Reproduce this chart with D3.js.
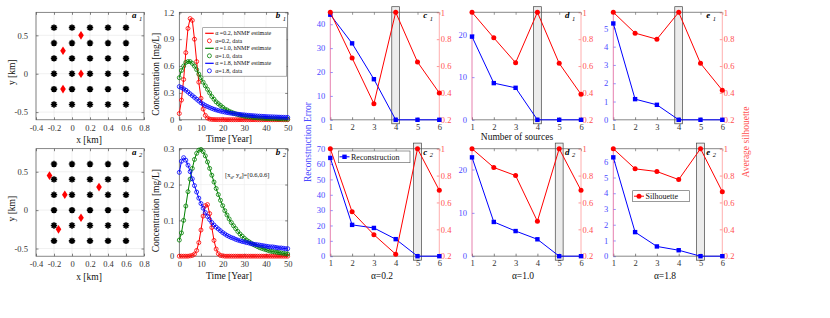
<!DOCTYPE html>
<html>
<head>
<meta charset="utf-8">
<script src="https://cdn.jsdelivr.net/npm/d3@7"></script>
<style>
  body { margin: 0; background: #fff; }
</style>
</head>
<body>
<div id="fig"></div>
<script>
// ---------- data ----------
// panels a: well grid and source locations [km]
const wellX = [-0.2, 0, 0.2, 0.4, 0.6];
const wellY = [-0.4, -0.2, 0, 0.2, 0.4, 0.6];
const srcA1 = [[0.1, 0.5], [-0.1, 0.3], [0.1, 0], [-0.1, -0.2]];
const srcA2 = [[-0.25, 0.45], [-0.08, 0.2], [0.3, 0.3], [0.1, -0.1], [-0.15, -0.25]];
const mapXTicks = [-0.4, -0.2, 0, 0.2, 0.4, 0.6, 0.8];
const mapYTicks = [-0.5, 0, 0.5];

// panels b: concentration [mg/L] vs time [year]
const years = [0,1,2,3,4,5,6,7,8,9,10,11,12,13,14,15,16,17,18,19,20,21,22,23,24,25,
  26,27,28,29,30,31,32,33,34,35,36,37,38,39,40,41,42,43,44,45,46,47,48,49,50];
const b1Alpha02 = [0.07,0.22,0.45,0.75,1.02,1.13,1.11,0.9,0.65,0.42,
  0.24,0.12,0.05,0.02,0.008,0.004,0.003,0.002,0.002,0.002,
  0.002,0.001,0.001,0.001,0.001,0.001,0.001,0.001,0.001,0.001,
  0.001,0.001,0.001,0.001,0.001,0.001,0.001,0.001,0.001,0.001,
  0.001,0.001,0.001,0.001,0.001,0.001,0.001,0.001,0.001,0.001,0.001];
const b1Alpha10 = [0.47,0.55,0.6,0.64,0.65,0.65,0.63,0.6,0.56,0.51,
  0.47,0.42,0.38,0.34,0.3,0.26,0.23,0.2,0.18,0.16,
  0.14,0.12,0.11,0.095,0.085,0.075,0.066,0.058,0.052,0.046,
  0.041,0.037,0.033,0.03,0.027,0.024,0.022,0.02,0.018,0.016,
  0.015,0.014,0.013,0.012,0.011,0.01,0.009,0.009,0.008,0.008,0.007];
const b1Alpha18 = [0.37,0.36,0.345,0.33,0.31,0.29,0.27,0.25,0.23,0.21,
  0.19,0.175,0.16,0.148,0.137,0.127,0.118,0.11,0.103,0.097,
  0.091,0.086,0.081,0.077,0.073,0.069,0.066,0.063,0.06,0.057,
  0.055,0.052,0.05,0.048,0.046,0.044,0.042,0.041,0.039,0.038,
  0.036,0.035,0.034,0.033,0.032,0.031,0.03,0.029,0.028,0.027,0.026];
const b2Alpha02 = [0,0,0,0,0,0.001,0.002,0.006,0.016,0.038,
  0.073,0.112,0.141,0.144,0.119,0.08,0.044,0.02,0.007,0.002,
  0.001,0,0,0,0,0,0,0,0,0,
  0,0,0,0,0,0,0,0,0,0,
  0,0,0,0,0,0,0,0,0,0,0];
const b2Alpha10 = [0.045,0.065,0.1,0.14,0.18,0.215,0.245,0.27,0.287,0.296,
  0.298,0.292,0.28,0.263,0.245,0.226,0.207,0.189,0.172,0.156,
  0.141,0.127,0.115,0.104,0.094,0.085,0.077,0.069,0.062,0.056,
  0.05,0.045,0.041,0.037,0.033,0.03,0.027,0.024,0.022,0.02,
  0.018,0.016,0.014,0.013,0.012,0.011,0.01,0.009,0.008,0.007,0.006];
const b2Alpha18 = [0.234,0.265,0.275,0.268,0.254,0.236,0.216,0.197,0.179,0.162,
  0.147,0.134,0.122,0.111,0.102,0.094,0.087,0.081,0.076,0.071,
  0.066,0.062,0.058,0.055,0.052,0.05,0.047,0.045,0.043,0.041,
  0.04,0.038,0.037,0.035,0.034,0.033,0.032,0.031,0.03,0.029,
  0.028,0.027,0.026,0.026,0.025,0.024,0.023,0.023,0.022,0.021,0.021];
const timeTicks = [0, 10, 20, 30, 40, 50];
const b1YTicks = [0, 0.3, 0.6, 0.9, 1.2];
const b2YTicks = [0, 0.1, 0.2, 0.3];
const alphaNames = ["0.2", "1.0", "1.8"];

// panels c, d, e: reconstruction error and average silhouette vs number of sources
const nSources = [1, 2, 3, 4, 5, 6];
const errC1 = [44, 32, 17, 0, 0, 0];
const silC1 = [1, 0.66, 0.32, 1, 0.63, 0.4];
const errC2 = [64, 20.4, 18.4, 11.1, 0, 0];
const silC2 = [1, 0.53, 0.36, 0.215, 1, 0.69];
const errD1 = [19.5, 8.6, 7.5, 0, 0, 0];
const silD1 = [1, 0.81, 0.625, 1, 0.62, 0.39];
const errD2 = [22.8, 7.9, 5.8, 3.9, 0, 0];
const silD2 = [1, 0.86, 0.8, 0.46, 1, 0.69];
const errE1 = [5.27, 1.13, 0.82, 0, 0, 0];
const silE1 = [1, 0.845, 0.8, 1, 0.62, 0.42];
const errE2 = [6.28, 1.53, 0.62, 0.38, 0, 0];
const silE2 = [1, 0.85, 0.83, 0.77, 1, 0.68];
const silTicks = [0.2, 0.4, 0.6, 0.8, 1];

// ---------- layout ----------
const serif = "'Liberation Serif', 'Times New Roman', serif";
const rowTop = [12.3, 148.7], plotH = 107.5;
const RED = "#ff0000", GREEN = "#008000", BLUE = "#0000ff";
const fmt = d => String(d);

const svg = d3.select("#fig").append("svg")
    .attr("width", 830).attr("height", 318)
    .attr("font-family", serif);

function drawAxis(gen, tr, color, fs) {
  const g = svg.append("g").attr("transform", tr).call(gen);
  g.attr("font-family", serif).attr("font-size", fs);
  g.select(".domain").remove();
  g.selectAll(".tick line").attr("stroke", color).attr("stroke-width", 0.6);
  g.selectAll(".tick text").attr("fill", color);
  return g;
}

function tag(x, y, letter, sub) {
  const t = svg.append("text").attr("x", x).attr("y", y).attr("font-size", 9);
  t.append("tspan").attr("font-weight", "bold").attr("font-style", "italic").text(letter);
  t.append("tspan").attr("font-style", "italic").attr("font-size", 6.5)
    .attr("dx", 2.5).attr("dy", 2.5).text(sub);
}

function vLabel(x, y, txt, color) {
  svg.append("text").attr("transform", `translate(${x},${y}) rotate(-90)`)
    .attr("text-anchor", "middle").attr("dy", "0.35em")
    .attr("font-size", 9.5).attr("fill", color).text(txt);
}

function hLabel(x, y, txt) {
  svg.append("text").attr("x", x).attr("y", y).attr("text-anchor", "middle")
    .attr("dy", "0.35em").attr("font-size", 9.5).attr("fill", "#111").text(txt);
}

// ---------- panels a ----------
const aLeft = 36, aW = 108;
const asterisk = "M-3.2,0H3.2M0,-3.2V3.2M-2.3,-2.3L2.3,2.3M-2.3,2.3L2.3,-2.3";
const diamond = "M0,-4.3L2.8,0L0,4.3L-2.8,0Z";

function mapPanel(top, sources, sub) {
  const x = d3.scaleLinear().domain([-0.4, 0.8]).range([aLeft, aLeft + aW]);
  const y = d3.scaleLinear().domain([-0.6, 0.8]).range([top + plotH, top]);
  const grid = svg.append("g").attr("stroke", "#e8e8e8").attr("stroke-width", 0.6);
  grid.selectAll(".gx").data(mapXTicks).join("line")
    .attr("x1", d => x(d)).attr("x2", d => x(d)).attr("y1", top).attr("y2", top + plotH);
  grid.selectAll(".gy").data(mapYTicks).join("line")
    .attr("y1", d => y(d)).attr("y2", d => y(d)).attr("x1", aLeft).attr("x2", aLeft + aW);

  drawAxis(d3.axisBottom(x).tickValues(mapXTicks).tickFormat(fmt).tickSize(-2.5).tickPadding(5),
    `translate(0,${top + plotH})`, "#333", 8.5);
  drawAxis(d3.axisTop(x).tickValues(mapXTicks).tickFormat("").tickSize(-2.5),
    `translate(0,${top})`, "#333", 8.5);
  drawAxis(d3.axisLeft(y).tickValues(mapYTicks).tickFormat(fmt).tickSize(-2.5).tickPadding(8),
    `translate(${aLeft},0)`, "#333", 8.5);
  drawAxis(d3.axisRight(y).tickValues(mapYTicks).tickFormat("").tickSize(-2.5),
    `translate(${aLeft + aW},0)`, "#333", 8.5);
  svg.append("rect").attr("x", aLeft).attr("y", top).attr("width", aW).attr("height", plotH)
    .attr("fill", "none").attr("stroke", "#555").attr("stroke-width", 0.7);

  const wells = [];
  wellX.forEach(wx => wellY.forEach(wy => wells.push([wx, wy])));
  svg.append("g").selectAll("path").data(wells).join("path")
    .attr("transform", d => `translate(${x(d[0])},${y(d[1])})`)
    .attr("d", asterisk).attr("stroke", "#000").attr("stroke-width", 1.6);
  svg.append("g").selectAll("path").data(sources).join("path")
    .attr("transform", d => `translate(${x(d[0])},${y(d[1])})`)
    .attr("d", diamond).attr("fill", RED);

  tag(aLeft + aW - 12, top + 6, "a", sub);
  hLabel(89, top + plotH + 20, "x [km]");
  vLabel(12, top + 60, "y [km]", "#111");
}

mapPanel(rowTop[0], srcA1, "1");
mapPanel(rowTop[1], srcA2, "2");

// ---------- panels b ----------
const bLeft = 179.3, bW = 108.4;

function curvePanel(top, series, yMax, yTicks, sub) {
  const x = d3.scaleLinear().domain([0, 50]).range([bLeft, bLeft + bW]);
  const y = d3.scaleLinear().domain([0, yMax]).range([top + plotH, top]);
  const grid = svg.append("g").attr("stroke", "#ececec").attr("stroke-width", 0.6);
  grid.selectAll(".gx").data(timeTicks).join("line")
    .attr("x1", d => x(d)).attr("x2", d => x(d)).attr("y1", top).attr("y2", top + plotH);
  grid.selectAll(".gy").data(yTicks).join("line")
    .attr("y1", d => y(d)).attr("y2", d => y(d)).attr("x1", bLeft).attr("x2", bLeft + bW);

  drawAxis(d3.axisBottom(x).tickValues(timeTicks).tickFormat(fmt).tickSize(-2.5).tickPadding(5),
    `translate(0,${top + plotH})`, "#333", 8.5);
  drawAxis(d3.axisTop(x).tickValues(timeTicks).tickFormat("").tickSize(-2.5),
    `translate(0,${top})`, "#333", 8.5);
  drawAxis(d3.axisLeft(y).tickValues(yTicks).tickFormat(fmt).tickSize(-2.5).tickPadding(5),
    `translate(${bLeft},0)`, "#333", 8.5);
  drawAxis(d3.axisRight(y).tickValues(yTicks).tickFormat("").tickSize(-2.5),
    `translate(${bLeft + bW},0)`, "#333", 8.5);
  svg.append("rect").attr("x", bLeft).attr("y", top).attr("width", bW).attr("height", plotH)
    .attr("fill", "none").attr("stroke", "#555").attr("stroke-width", 0.7);

  const line = d3.line().x((d, i) => x(years[i])).y(d => y(d));
  series.forEach(s => {
    svg.append("path").datum(s.values).attr("d", line)
      .attr("fill", "none").attr("stroke", s.color).attr("stroke-width", 1);
    svg.append("g").selectAll("circle").data(s.values).join("circle")
      .attr("cx", (d, i) => x(years[i])).attr("cy", d => y(d)).attr("r", 2)
      .attr("fill", "none").attr("stroke", s.color).attr("stroke-width", 0.8);
  });

  tag(bLeft + bW - 12, top + 6, "b", sub);
  hLabel(229, top + plotH + 19, "Time [Year]");
  vLabel(156, top + 62, "Concentration [mg/L]", "#111");
}

const colors = [RED, GREEN, BLUE];
curvePanel(rowTop[0], [b1Alpha02, b1Alpha10, b1Alpha18].map((v, i) => ({values: v, color: colors[i]})),
  1.2, b1YTicks, "1");
curvePanel(rowTop[1], [b2Alpha02, b2Alpha10, b2Alpha18].map((v, i) => ({values: v, color: colors[i]})),
  0.3, b2YTicks, "2");

// legend in b1
{
  const lx = 202.7, ly = 27.7;
  svg.append("rect").attr("x", lx).attr("y", ly).attr("width", 84).attr("height", 48.5)
    .attr("fill", "#fff").attr("stroke", "#777").attr("stroke-width", 0.6);
  const rows = [];
  alphaNames.forEach((a, i) => {
    rows.push({kind: "line", color: colors[i], text: `\u03b1 =${a}, hNMF estimate`});
    rows.push({kind: "dot", color: colors[i], text: `\u03b1=${a}, data`});
  });
  rows.forEach((r, i) => {
    const ry = ly + 5.6 + i * 7.5;
    if (r.kind === "line") {
      svg.append("line").attr("x1", lx + 2.5).attr("x2", lx + 11).attr("y1", ry).attr("y2", ry)
        .attr("stroke", r.color).attr("stroke-width", 1.2);
    } else {
      svg.append("circle").attr("cx", lx + 6.7).attr("cy", ry).attr("r", 2)
        .attr("fill", "none").attr("stroke", r.color).attr("stroke-width", 0.8);
    }
    svg.append("text").attr("x", lx + 12.5).attr("y", ry).attr("dy", "0.35em")
      .attr("font-size", 6).attr("fill", "#111").text(r.text);
  });
}

// annotation in b2
{
  const t = svg.append("text").attr("x", 225).attr("y", 177).attr("font-size", 6.5).attr("fill", "#111");
  t.append("tspan").text("[x");
  t.append("tspan").attr("font-size", 4.5).attr("dy", 1.5).text("d");
  t.append("tspan").attr("dy", -1.5).text(", y");
  t.append("tspan").attr("font-size", 4.5).attr("dy", 1.5).text("d");
  t.append("tspan").attr("dy", -1.5).text("]=[0.6,0.6]");
}

// ---------- panels c, d, e ----------
const cdeW = 109;
const LBLUE = "#4a4aff", LRED = "#ff5050";

function silPanel(p) {
  const top = p.top, left = p.left;
  const x = d3.scaleLinear().domain([1, 6]).range([left, left + cdeW]);
  const yL = d3.scaleLinear().domain([0, p.errMax]).range([top + plotH, top]);
  const yR = d3.scaleLinear().domain([0.2, 1]).range([top + plotH, top]);

  // highlighted number of sources
  svg.append("rect").attr("x", x(p.best - 0.18)).attr("y", top - 5.6)
    .attr("width", x(p.best + 0.18) - x(p.best - 0.18)).attr("height", plotH + 9.6)
    .attr("fill", "#d4d4d4").attr("fill-opacity", 0.45)
    .attr("stroke", "#444").attr("stroke-width", 0.7);

  drawAxis(d3.axisBottom(x).tickValues(nSources).tickFormat(fmt).tickSize(-2.5).tickPadding(4),
    `translate(0,${top + plotH})`, "#333", 8.5);
  drawAxis(d3.axisTop(x).tickValues(nSources).tickFormat("").tickSize(-2.5),
    `translate(0,${top})`, "#555", 8.5);
  drawAxis(d3.axisLeft(yL).tickValues(p.errTicks).tickFormat(fmt).tickSize(-2.5).tickPadding(5),
    `translate(${left},0)`, LBLUE, 8.5);
  drawAxis(d3.axisRight(yR).tickValues(silTicks).tickFormat(fmt).tickSize(-2.5).tickPadding(1.5),
    `translate(${left + cdeW},0)`, LRED, 8.5);

  svg.append("line").attr("x1", left).attr("x2", left + cdeW).attr("y1", top).attr("y2", top)
    .attr("stroke", "#555").attr("stroke-width", 0.7);
  svg.append("line").attr("x1", left).attr("x2", left + cdeW).attr("y1", top + plotH).attr("y2", top + plotH)
    .attr("stroke", "#555").attr("stroke-width", 0.7);
  svg.append("line").attr("x1", left).attr("x2", left).attr("y1", top).attr("y2", top + plotH)
    .attr("stroke", "#e0609a").attr("stroke-width", 0.8);
  svg.append("line").attr("x1", left + cdeW).attr("x2", left + cdeW).attr("y1", top).attr("y2", top + plotH)
    .attr("stroke", "#ff9a9a").attr("stroke-width", 0.8);

  // reconstruction error
  svg.append("path").datum(p.err)
    .attr("d", d3.line().x((d, i) => x(nSources[i])).y(d => yL(d)))
    .attr("fill", "none").attr("stroke", BLUE).attr("stroke-width", 1);
  svg.append("g").selectAll("rect").data(p.err).join("rect")
    .attr("x", (d, i) => x(nSources[i]) - 2.2).attr("y", d => yL(d) - 2.2)
    .attr("width", 4.4).attr("height", 4.4).attr("fill", BLUE);

  // average silhouette
  svg.append("path").datum(p.sil)
    .attr("d", d3.line().x((d, i) => x(nSources[i])).y(d => yR(d)))
    .attr("fill", "none").attr("stroke", RED).attr("stroke-width", 1);
  svg.append("g").selectAll("circle").data(p.sil).join("circle")
    .attr("cx", (d, i) => x(nSources[i])).attr("cy", d => yR(d)).attr("r", 2.5).attr("fill", RED);

  tag(left + cdeW - 16, top + 6, p.letter, p.sub);
  return x;
}

const cdeLeft = [330.3, 472, 613.3];
silPanel({left: cdeLeft[0], top: rowTop[0], err: errC1, sil: silC1, errMax: 45, errTicks: [0, 10, 20, 30, 40], best: 4, letter: "c", sub: "1"});
silPanel({left: cdeLeft[0], top: rowTop[1], err: errC2, sil: silC2, errMax: 70, errTicks: [0, 10, 20, 30, 40, 50, 60, 70], best: 5, letter: "c", sub: "2"});
silPanel({left: cdeLeft[1], top: rowTop[0], err: errD1, sil: silD1, errMax: 25.2, errTicks: [0, 10, 20], best: 4, letter: "d", sub: "1"});
silPanel({left: cdeLeft[1], top: rowTop[1], err: errD2, sil: silD2, errMax: 24.8, errTicks: [0, 10, 20], best: 5, letter: "d", sub: "2"});
silPanel({left: cdeLeft[2], top: rowTop[0], err: errE1, sil: silE1, errMax: 5.88, errTicks: [0, 1, 2, 3, 4, 5], best: 4, letter: "e", sub: "1"});
silPanel({left: cdeLeft[2], top: rowTop[1], err: errE2, sil: silE2, errMax: 6.83, errTicks: [0, 1, 2, 3, 4, 5, 6], best: 5, letter: "e", sub: "2"});

// axis titles
hLabel(517, 137, "Number of sources");
hLabel(382, 276, "\u03b1=0.2");
hLabel(523, 276, "\u03b1=1.0");
hLabel(665, 276, "\u03b1=1.8");
vLabel(308, 142, "Reconstruction Error", LBLUE);
vLabel(746, 142, "Average silhouette", LRED);

// legends
{
  svg.append("rect").attr("x", 338.3).attr("y", 151).attr("width", 71.7).attr("height", 11.7)
    .attr("fill", "#fff").attr("stroke", "#555").attr("stroke-width", 0.6);
  svg.append("line").attr("x1", 339.5).attr("x2", 349.5).attr("y1", 156.8).attr("y2", 156.8)
    .attr("stroke", BLUE).attr("stroke-width", 1);
  svg.append("rect").attr("x", 344.5 - 2.2).attr("y", 156.8 - 2.2).attr("width", 4.4).attr("height", 4.4).attr("fill", BLUE);
  svg.append("text").attr("x", 351).attr("y", 156.8).attr("dy", "0.35em").attr("font-size", 8)
    .attr("fill", "#111").text("Reconstruction");

  svg.append("rect").attr("x", 632.7).attr("y", 190.7).attr("width", 56.6).attr("height", 11)
    .attr("fill", "#fff").attr("stroke", "#555").attr("stroke-width", 0.6);
  svg.append("line").attr("x1", 634).attr("x2", 644).attr("y1", 196.2).attr("y2", 196.2)
    .attr("stroke", RED).attr("stroke-width", 1);
  svg.append("circle").attr("cx", 639).attr("cy", 196.2).attr("r", 2.5).attr("fill", RED);
  svg.append("text").attr("x", 645.5).attr("y", 196.2).attr("dy", "0.35em").attr("font-size", 8)
    .attr("fill", "#111").text("Silhouette");
}
</script>
</body>
</html>
